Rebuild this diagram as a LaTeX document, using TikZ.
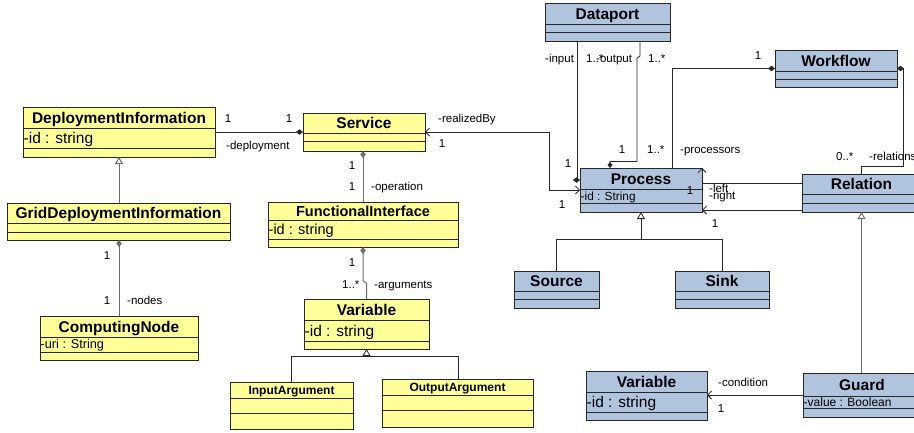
\documentclass[tikz,border=0pt]{standalone}
\usepackage{fontspec}
\setmainfont{Liberation Sans}
\usetikzlibrary{arrows.meta}
\definecolor{ylw}{RGB}{255,255,153}
\definecolor{blu}{RGB}{176,196,222}
\definecolor{edge}{RGB}{40,40,40}
\definecolor{gline}{RGB}{110,110,110}
\newcommand\umlbox[9]{%
  \pgfmathsetmacro\ubW{#4-#2}%
  \pgfmathsetmacro\ubH{#5-#3}%
  \pgfmathsetmacro\ubX{(#2+#4)/2}%
  \pgfmathsetmacro\ubY{(#3+#6)/2}%
  \node[clsbox,fill=#8,minimum width=\ubW pt,minimum height=\ubH pt,anchor=north west] (#1) at (#2,#3) {};
  \draw[clsline] (#2,#6) -- (#4,#6) (#2,#7) -- (#4,#7);
  \node[titletext] (#1-title) at (\ubX,\ubY) {#9};
}
\begin{document}
\begin{tikzpicture}[x=1pt,y=-1pt,
  clsbox/.style={draw=edge,line width=0.9pt,inner sep=0pt,outer sep=0pt},
  clsline/.style={draw=edge,line width=0.9pt},
  titletext/.style={font=\fontsize{15.5}{16}\bfseries\selectfont,inner sep=0pt,text height=11.1pt,text depth=0pt},
  attrtext/.style={font=\fontsize{15.5}{16}\selectfont,inner sep=0.5pt,text height=11.1pt,text depth=0pt,anchor=west},
  smallattr/.style={font=\fontsize{12}{12}\selectfont,inner sep=0.5pt,text height=8.6pt,text depth=0pt,anchor=west},
  lbl/.style={font=\fontsize{11.5}{12}\selectfont,inner sep=0pt,text height=8.2pt,text depth=0pt},
  wlbl/.style={lbl,anchor=west},
  conn/.style={draw=edge,line width=0.8pt},
  gconn/.style={draw=gline,line width=1pt},
  comp/.style={{Diamond[length=7pt,width=5.5pt]}-},
  gen/.style={-{Triangle[open,length=7pt,width=8pt,fill=white]}},
  nav/.style={-{Straight Barb[length=4pt,width=8pt]}},
]
\useasboundingbox (0,0) rectangle (914,432);
\clip (0,0) rectangle (914,432);

% ---------- yellow classes ----------
\umlbox{di}{23}{107}{215}{157}{128}{148}{ylw}{DeploymentInformation}
\node[attrtext] (di-a) at (23,138) {-id : string};
\umlbox{gdi}{7}{203}{230}{240}{223}{232}{ylw}{GridDeploymentInformation}
\umlbox{cn}{40}{316}{198}{360}{337}{352}{ylw}{ComputingNode}
\node[smallattr,font=\fontsize{12.7}{13}\selectfont] (cn-a) at (40,344.5) {-uri : String};
\umlbox{svc}{303}{113}{425}{151}{133}{141}{ylw}{Service}
\begin{scope}[titletext/.style={font=\fontsize{14.5}{15}\bfseries\selectfont,inner sep=0pt,text height=10.4pt,text depth=0pt}]
\umlbox{fi}{268}{202}{458}{247}{220}{239}{ylw}{FunctionalInterface}
\end{scope}
\node[attrtext,font=\fontsize{14.5}{15}\selectfont,text height=10.4pt] (fi-a) at (268,229.5) {-id : string};
\umlbox{vy}{304}{299}{429}{349}{320}{341}{ylw}{Variable}
\node[attrtext] (vy-a) at (304,330.5) {-id : string};
\begin{scope}[titletext/.style={font=\fontsize{12}{12}\bfseries\selectfont,inner sep=0pt,text height=8.6pt,text depth=0pt}]
\umlbox{ia}{230}{382}{353}{429}{398}{413}{ylw}{InputArgument}
\umlbox{oa}{382}{379}{533}{427}{395}{410}{ylw}{OutputArgument}
\end{scope}

% ---------- blue classes ----------
\umlbox{dp}{545}{3}{670}{41}{24}{32}{blu}{Dataport}
\umlbox{proc}{580}{168}{702}{212}{189}{203}{blu}{Process}
\node[smallattr,font=\fontsize{11.8}{12}\selectfont] (proc-a) at (580,196) {-id : String};
\umlbox{wf}{775}{50}{897}{87}{71}{79}{blu}{Workflow}
\umlbox{rel}{802}{174}{921}{212}{194}{203}{blu}{Relation}
\umlbox{src}{514}{271}{599}{308}{291}{299}{blu}{Source}
\umlbox{snk}{675}{271}{769}{308}{291}{299}{blu}{Sink}
\umlbox{vb}{586}{371}{707}{420}{392}{412}{blu}{Variable}
\node[attrtext] (vb-a) at (586,402) {-id : string};
\umlbox{grd}{803}{373}{921}{417}{396}{408}{blu}{Guard}
\node[smallattr] (grd-a) at (803,402) {-value : Boolean};

% ---------- connectors, left part ----------
\draw[conn,comp] (svc.west) -- (di.east);
\draw[gconn,gen] (di.south |- gdi.north) -- (di.south);
\draw[gconn,comp] (gdi.south -| cn.north) -- (cn.north);
\draw[gconn,comp] (svc.south -| fi.north) -- (fi.north);
\draw[gconn,comp] (fi.south) -- ++(0,34) -- (vy.north |- 0,283) -- (vy.north);
\draw[conn,gen] (vy.south |- 0,356) -- (vy.south);
\draw[conn] (ia.north) |- (458,356) -- (oa.north -| 458,0);

% ---------- connectors, right part ----------
\draw[conn,{Straight Barb[length=4pt,width=8pt]}-{Straight Barb[length=4pt,width=8pt]}]
  (svc.east) -- (549,132) -- (549,190) -- (proc.west |- 0,190);
\draw[conn,comp] (proc.west |- 0,180) -- (577,180) -- (dp.south -| 577,0);
\draw[conn,{Diamond[length=6pt,width=5pt]}-] (proc.north -| 610,0) -- (610,161.5) -- (637,161.5) -- (637,58) -- (640,56) -- (dp.south -| 640,0);
\draw[conn,comp] (wf.west) -| (proc.north -| 672,0);
\draw[conn,comp] (wf.east) -| (903,166) -| (rel.north);
\draw[conn,nav] (rel.west |- 0,183) -- (702,183) -- (proc.north east);
\draw[conn,nav] (rel.west |- 0,210) -- (proc.east |- 0,210);
\draw[gconn,gen] (grd.north -| rel.south) -- (rel.south);
\draw[conn,nav] (grd.west |- 0,395) -- (vb.east |- 0,395);
\draw[conn,gen] (proc.south |- 0,239) -- (proc.south);
\draw[conn] (src.north) |- (snk.north |- 0,239) -- (snk.north);

% ---------- labels ----------
\node[lbl] (l1) at (228,118) {1};
\node[lbl] (l2) at (289,118) {1};
\node[wlbl] (l3) at (226,145) {-deployment};
\node[lbl] (l4) at (107,255) {1};
\node[lbl] (l5) at (107,300) {1};
\node[wlbl] (l6) at (127,300) {-nodes};
\node[lbl] (l7) at (352,165) {1};
\node[lbl] (l8) at (352,186) {1};
\node[wlbl] (l9) at (371,186) {-operation};
\node[lbl] (l10) at (352,262) {1};
\node[wlbl] (l11) at (342,284) {1..*};
\node[wlbl] (l12) at (374,284) {-arguments};
\node[wlbl] (l13) at (438,118) {-realizedBy};
\node[lbl] (l14) at (442,143) {1};
\node[wlbl] (l15) at (545,58) {-input};
\node[wlbl] (l16) at (586,58) {1..*};
\node[wlbl] (l17) at (596,58) {-output};
\node[wlbl] (l18) at (648,58) {1..*};
\node[lbl] (l19) at (568,163) {1};
\node[lbl] (l20) at (562,204) {1};
\node[lbl] (l21) at (622,149) {1};
\node[wlbl] (l22) at (647,149) {1..*};
\node[wlbl] (l23) at (680,149) {-processors};
\node[lbl] (l24) at (758,55) {1};
\node[wlbl] (l25) at (836,156) {0..*};
\node[wlbl] (l26) at (869,156) {-relations};
\node[lbl] (l27) at (690,190) {1};
\node[wlbl] (l28) at (709,188) {-left};
\node[wlbl] (l29) at (709,195) {-right};
\node[lbl] (l30) at (715,223) {1};
\node[wlbl] (l31) at (718,382) {-condition};
\node[lbl] (l32) at (721,408) {1};
\end{tikzpicture}
\end{document}
